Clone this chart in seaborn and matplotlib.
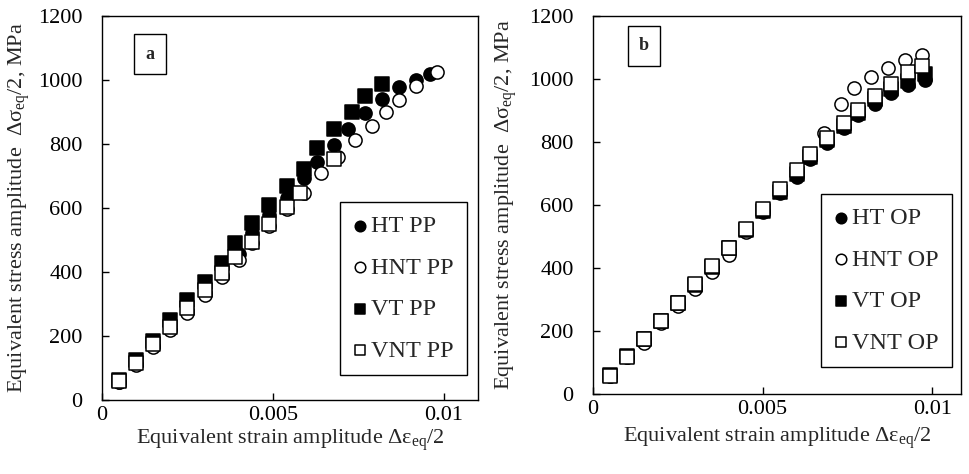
import numpy as np
import pandas as pd
import matplotlib
matplotlib.use("Agg")
import matplotlib.pyplot as plt
import seaborn as sns

sns.set_style("ticks")
plt.rcParams['font.family'] = ['Liberation Serif', 'DejaVu Serif']
plt.rcParams['mathtext.fontset'] = 'custom'
plt.rcParams['mathtext.rm'] = 'Liberation Serif'
plt.rcParams['mathtext.it'] = 'Liberation Serif:italic'

# ---- panel a : PP loading ----
ht_pp_x = [0.0005, 0.001, 0.0015, 0.002, 0.0025, 0.003, 0.0035, 0.004, 0.0044, 0.0049,
           0.0054, 0.0059, 0.0063, 0.0068, 0.0072, 0.0077, 0.0082, 0.0087, 0.0092, 0.0096]
ht_pp_y = [56, 112, 168, 222, 280, 336, 392, 455, 521, 578,
           630, 695, 743, 797, 846, 898, 942, 979, 1000, 1018]
hnt_pp_x = [0.0005, 0.001, 0.0015, 0.002, 0.0025, 0.003, 0.0035, 0.004, 0.0044, 0.0049,
            0.0054, 0.0059, 0.0064, 0.0069, 0.0074, 0.0079, 0.0083, 0.0087, 0.0092, 0.0098]
hnt_pp_y = [55, 108, 165, 218, 272, 328, 383, 438, 492, 545,
            598, 648, 710, 760, 812, 856, 901, 939, 981, 1026]
vt_pp_x = [0.0005, 0.001, 0.0015, 0.002, 0.0025, 0.003, 0.0035, 0.0039, 0.0044, 0.0049,
           0.0054, 0.0059, 0.0063, 0.0068, 0.0073, 0.0077, 0.0082]
vt_pp_y = [62, 125, 185, 250, 312, 370, 428, 490, 554, 610,
           670, 721, 786, 846, 901, 950, 988]
vnt_pp_x = [0.0005, 0.001, 0.0015, 0.002, 0.0025, 0.003, 0.0035, 0.0039, 0.0044, 0.0049,
            0.0054, 0.0058, 0.0068]
vnt_pp_y = [59, 117, 174, 229, 286, 345, 398, 448, 495, 549, 602, 648, 752]

# ---- panel b : OP loading ----
ht_op_x = [0.0005, 0.001, 0.0015, 0.002, 0.0025, 0.003, 0.0035, 0.004, 0.0045, 0.005,
           0.0055, 0.006, 0.0064, 0.0069, 0.0074, 0.0078, 0.0083, 0.0088, 0.0093, 0.0098]
ht_op_y = [58, 118, 174, 232, 285, 340, 400, 458, 517, 578,
           638, 690, 745, 798, 843, 885, 922, 955, 980, 998]
hnt_op_x = [0.0005, 0.001, 0.0015, 0.002, 0.0025, 0.003, 0.0035, 0.004, 0.0045, 0.005,
            0.0055, 0.006, 0.0064, 0.0068, 0.0073, 0.0077, 0.0082, 0.0087, 0.0092, 0.0097]
hnt_op_y = [56, 116, 162, 226, 278, 332, 386, 441, 515, 582,
            645, 706, 760, 827, 921, 971, 1007, 1034, 1059, 1076]
vt_op_x = [0.0005, 0.001, 0.0015, 0.002, 0.0025, 0.003, 0.0035, 0.004, 0.0045, 0.005,
           0.0055, 0.006, 0.0064, 0.0069, 0.0074, 0.0078, 0.0083, 0.0088, 0.0093, 0.0098]
vt_op_y = [60, 120, 176, 233, 288, 345, 404, 462, 522, 580,
           640, 700, 752, 805, 850, 893, 935, 968, 995, 1015]
vnt_op_x = [0.0005, 0.001, 0.0015, 0.002, 0.0025, 0.003, 0.0035, 0.004, 0.0045, 0.005,
            0.0055, 0.006, 0.0064, 0.0069, 0.0074, 0.0078, 0.0083, 0.0088, 0.0093, 0.0097]
vnt_op_y = [58, 118, 176, 233, 290, 348, 405, 462, 523, 588,
            650, 711, 762, 812, 859, 902, 946, 984, 1023, 1041]

x_ticks = [0, 0.005, 0.01]
x_ticklabels = ["0", "0.005", "0.01"]
y_ticks = [0, 200, 400, 600, 800, 1000, 1200]

xlabel = "Equivalent strain amplitude \u0394\u03b5$_{\\mathrm{eq}}$/2"
ylabel = "Equivalent stress amplitude  \u0394\u03c3$_{\\mathrm{eq}}$/2, MPa"

fig = plt.figure(figsize=(9.69, 4.74), dpi=100)
ax1 = fig.add_axes([102 / 969, 74 / 474, 376 / 969, 384 / 474])
ax2 = fig.add_axes([593 / 969, 80 / 474, 368 / 969, 378 / 474])

def draw_panel(ax, series, letter, xmax, leg_anchor, letter_pos, ylab_x, xlab_y):
    for x, y, lab, mk, fc in series:
        sns.scatterplot(x=x, y=y, ax=ax, marker=mk, s=90, color=fc,
                        edgecolor="black", linewidth=1.1, label=lab, zorder=3)
    ax.set_xlim(0, xmax)
    ax.set_ylim(0, 1200)
    ax.set_xticks(x_ticks)
    ax.set_xticklabels(x_ticklabels)
    ax.set_yticks(y_ticks)
    ax.tick_params(axis="both", direction="in", length=5, width=1, labelsize=16,
                   colors="black")
    ax.tick_params(axis="y", pad=14)
    ax.tick_params(axis="x", pad=4)
    for sp in ax.spines.values():
        sp.set_visible(True)
        sp.set_linewidth(1.0)
        sp.set_color("black")
    ax.set_xlabel(xlabel, fontsize=16)
    ax.set_ylabel(ylabel, fontsize=16)
    ax.xaxis.set_label_coords(0.5, xlab_y)
    ax.xaxis.label.set_va("center")
    ax.yaxis.set_label_coords(ylab_x, 0.5)
    ax.yaxis.label.set_va("center")
    leg = ax.legend(loc="lower right", bbox_to_anchor=leg_anchor, borderaxespad=0,
                    fontsize=17.5, frameon=True, fancybox=False, edgecolor="black",
                    handlelength=0.6, handletextpad=0.15, labelspacing=0.8,
                    borderpad=0.55, markerscale=0.8)
    leg.get_frame().set_linewidth(1.0)
    leg.get_frame().set_alpha(1)
    ax.text(letter_pos[0], letter_pos[1], letter, transform=ax.transAxes,
            ha="center", va="center", fontsize=13, fontweight="bold",
            bbox=dict(boxstyle="square,pad=0.62", fc="white", ec="black", lw=1.0))

draw_panel(ax1,
           [(ht_pp_x, ht_pp_y, "HT PP", "o", "black"),
            (hnt_pp_x, hnt_pp_y, "HNT PP", "o", "white"),
            (vt_pp_x, vt_pp_y, "VT PP", "s", "black"),
            (vnt_pp_x, vnt_pp_y, "VNT PP", "s", "white")],
           "a", 0.011, (0.971, 0.065), (0.128, 0.901), -0.221, -0.104)

draw_panel(ax2,
           [(ht_op_x, ht_op_y, "HT OP", "o", "black"),
            (hnt_op_x, hnt_op_y, "HNT OP", "o", "white"),
            (vt_op_x, vt_op_y, "VT OP", "s", "black"),
            (vnt_op_x, vnt_op_y, "VNT OP", "s", "white")],
           "b", 0.01085, (0.976, 0.071), (0.139, 0.921), -0.235, -0.116)

fig.savefig("out.png", dpi=100)
